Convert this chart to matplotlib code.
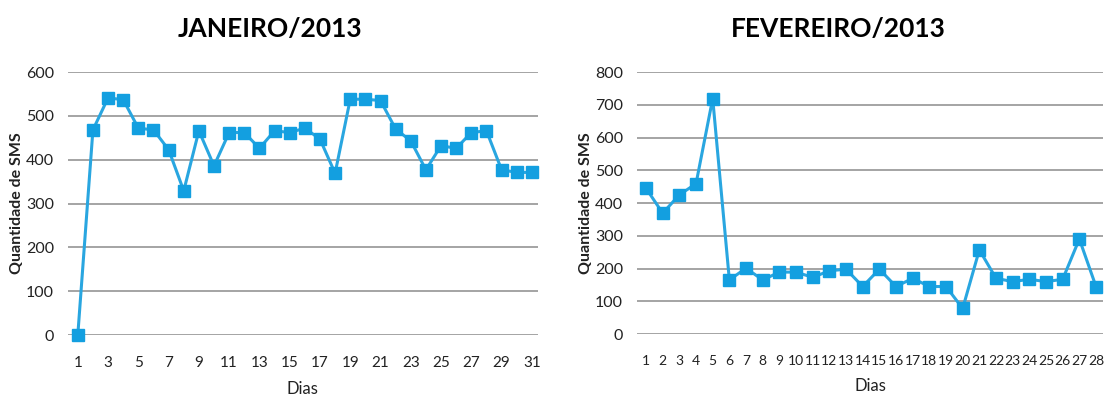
import matplotlib
matplotlib.use("Agg")
import matplotlib.pyplot as plt

# Daily SMS counts
jan_days = list(range(1, 32))
jan_sms = [0, 468, 541, 537, 472, 468, 423, 329, 466, 386, 462, 462, 426, 466,
           462, 472, 447, 369, 538, 538, 535, 470, 443, 377, 432, 426, 462, 466,
           377, 371, 371]

feb_days = list(range(1, 29))
feb_sms = [445, 369, 425, 459, 719, 165, 201, 165, 189, 189, 173, 193, 198, 145,
           198, 145, 170, 145, 145, 78, 257, 170, 160, 167, 160, 167, 290, 145]

titles = ["JANEIRO/2013", "FEVEREIRO/2013"]
x_label = "Dias"
y_label = "Quantidade de SMS"

plt.rcParams["font.family"] = ["Lato", "DejaVu Sans"]

LINE = "#29a6e0"
MARK = "#139fe0"
GRID = "#8c8c8c"
TEXT = "#222222"

fig = plt.figure(figsize=(11.05, 3.99), dpi=100)
ax1 = fig.add_axes([0.0615, 0.1604, 0.4253, 0.659])
ax2 = fig.add_axes([0.5765, 0.1629, 0.4217, 0.6566])

panels = [
    (ax1, jan_days, jan_sms, titles[0], (0.35, 31.4), 600, jan_days[::2], 11, 0.43),
    (ax2, feb_days, feb_sms, titles[1], (0.46, 28.42), 800, feb_days, 10, 0.433),
]

for ax, days, vals, title, xlim, ymax, xticks, xsize, tx in panels:
    ax.plot(days, vals, color=LINE, lw=2.2, marker="s", markersize=8.5,
            markerfacecolor=MARK, markeredgecolor=MARK, zorder=3, clip_on=False)
    ax.set_xlim(*xlim)
    ax.set_ylim(0, ymax)
    ax.set_yticks(range(0, ymax + 1, 100))
    ax.set_xticks(xticks)
    ax.set_xticklabels([str(d) for d in xticks])
    ax.grid(axis="y", color=GRID, lw=1.1)
    ax.set_axisbelow(True)
    for s in ax.spines.values():
        s.set_visible(False)
    ax.tick_params(axis="y", length=0, labelsize=11.5, colors=TEXT, pad=10)
    ax.tick_params(axis="x", length=0, labelsize=xsize, colors=TEXT, pad=15)
    ax.set_title(title, fontsize=19, fontweight="bold", color="black", pad=25, x=tx)
    ax.set_xlabel(x_label, fontsize=12, color=TEXT, labelpad=8)
    ax.set_ylabel(y_label, fontsize=11.5, fontweight="bold", color=TEXT)
    ax.yaxis.set_label_coords(-0.094, 0.5)

fig.savefig("out.png", dpi=100, facecolor="white")
